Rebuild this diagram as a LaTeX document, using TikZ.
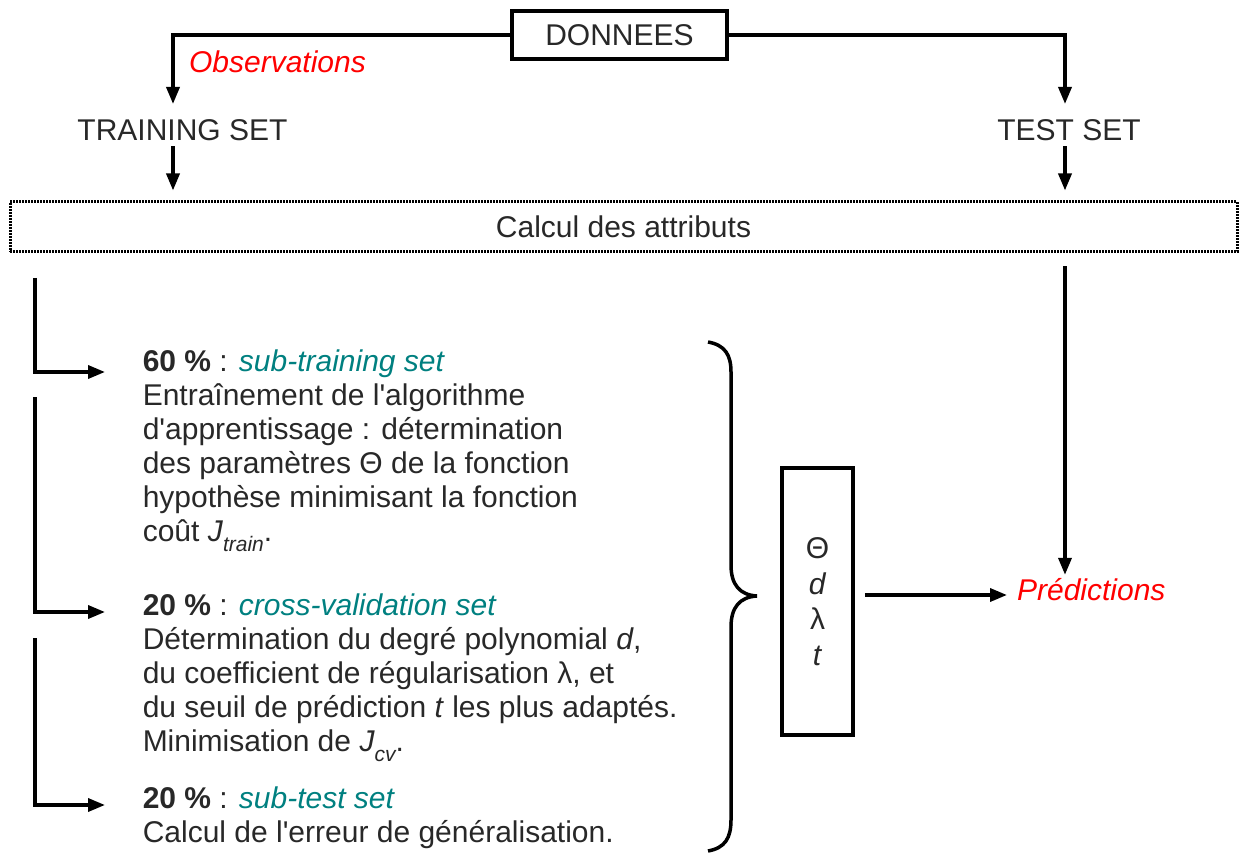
\documentclass[tikz,border=0pt]{standalone}
\usepackage{fontspec}
\defaultfontfeatures[\rmfamily]{}
\setmainfont{Liberation Sans}
\usetikzlibrary{arrows.meta}
\definecolor{txt}{RGB}{40,40,40}
\definecolor{tealc}{RGB}{0,128,128}
\definecolor{redc}{RGB}{255,0,0}
\newcommand\subtxt[1]{\raisebox{-10pt}{\fontsize{21}{21}\selectfont\itshape #1}}
\begin{document}
\begin{tikzpicture}[x=1pt,y=-1pt,
  font=\fontsize{30}{34}\selectfont,
  line width=3.5pt,
  arr/.style={-{Triangle[length=17pt,width=13pt]}},
  box/.style={draw, line width=3.5pt, inner sep=0pt, text=txt},
  lbl/.style={text=txt},
  redlbl/.style={text=redc, font=\fontsize{30}{34}\selectfont\itshape},
  blk/.style={anchor=base west, align=left, inner sep=0pt, text=txt}]
\useasboundingbox (0,0) rectangle (1243,853);
% columns
\coordinate (cl) at (173,0);
\coordinate (cr) at (1065,0);
% top
\node[box, minimum width=215pt, minimum height=48pt] (don) at (619.5,35) {DONNEES};
\node[redlbl, anchor=base west] (obs) at (184,73) {Observations};
\node[lbl, anchor=base] (train) at (182.5,141) {TRAINING SET};
\node[lbl, anchor=base] (test) at (1069,141) {TEST SET};
\node[draw, line width=3pt, dash pattern=on 2pt off 1pt, minimum width=1227pt, minimum height=50pt, text=txt] (calc) at (623.5,227) {Calcul des attributs};
\draw[arr, shorten >=11pt] (don.west) -| (train.north -| cl);
\draw[arr, shorten >=11pt] (don.east) -| (test.north -| cr);
\draw[arr, shorten >=10pt] (train.south -| cl) -- (calc.north -| cl);
\draw[arr, shorten >=10pt] (test.south -| cr) -- (calc.north -| cr);
% right part
\node[redlbl, anchor=base west] (pred) at (1012,600) {Prédictions};
\draw[arr] ([yshift=-13pt]calc.south -| cr) -- ([yshift=-2pt]pred.north -| cr);
\node[box, minimum width=71pt, minimum height=267pt, align=center, font=\fontsize{30}{35.5}\selectfont] (par) at (817.5,601.5) {Θ\\\textit{d}\\λ\\\textit{t}};
\coordinate (ay) at (0,595);
\draw[arr] ([xshift=10pt]par.east |- ay) -- ([xshift=-5pt]pred.west |- ay);
% brace
\draw[line width=3.5pt] (708,342) .. controls (725,345) and (731,355) .. (731,372) -- (731,565)
  .. controls (731,585) and (740,595) .. (757,596)
  .. controls (740,597) and (731,607) .. (731,627) -- (731,820)
  .. controls (731,838) and (725,848) .. (708,851);
% text blocks (base = last line)
\node[blk] (b1) at (141,541) {\textbf{60 \%} : \textcolor{tealc}{\textit{sub-training set}}\\
Entraînement de l'algorithme\\
d'apprentissage : détermination\\
des paramètres Θ de la fonction\\
hypothèse minimisant la fonction\\
coût \textit{J}\subtxt{train}.};
\node[blk] (b2) at (141,751) {\textbf{20 \%} : \textcolor{tealc}{\textit{cross-validation set}}\\
Détermination du degré polynomial \textit{d},\\
du coefficient de régularisation λ, et\\
du seuil de prédiction \textit{t} les plus adaptés.\\
Minimisation de \textit{J}\subtxt{cv}.};
\node[blk] (b3) at (141,842) {\textbf{20 \%} : \textcolor{tealc}{\textit{sub-test set}}\\
Calcul de l'erreur de généralisation.};
% left connectors
\coordinate (l1) at (35,278);
\coordinate (l2) at (35,397);
\coordinate (l3) at (35,638);
\coordinate (e1) at (105,372);
\coordinate (e2) at (105,612);
\coordinate (e3) at (105,805);
\draw[arr] (l1) |- (e1);
\draw[arr] (l2) |- (e2);
\draw[arr] (l3) |- (e3);
\end{tikzpicture}
\end{document}
